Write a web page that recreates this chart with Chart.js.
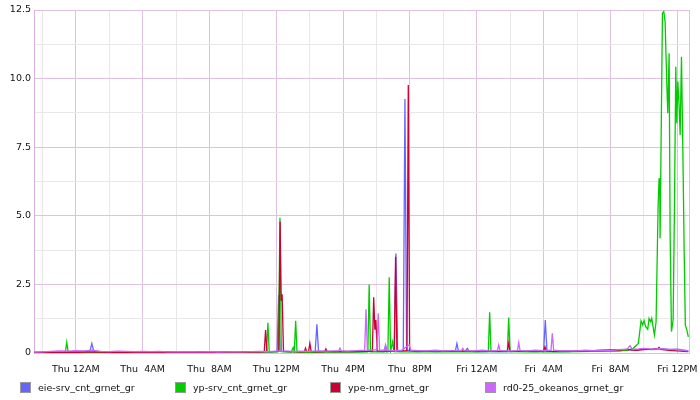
<!DOCTYPE html>
<html>
<head>
<meta charset="utf-8">
<script src="https://cdn.jsdelivr.net/npm/chart.js@4/dist/chart.umd.min.js"></script>
<style>
  html, body { margin: 0; padding: 0; background: #fff; }
  #wrap { position: relative; width: 700px; height: 400px; }
  canvas { position: absolute; left: 0; top: 0; }
  .lg { position: absolute; top: 381px; height: 14px; font: 9.5px "DejaVu Sans", sans-serif; color: #111; line-height: 14px; white-space: nowrap; }
  .lg span.box { position: absolute; left: 0; top: 1px; width: 9px; height: 9px; border: 1px solid #999; }
  .lg span.txt { position: absolute; left: 18px; top: 0; }
</style>
</head>
<body>
<div id="wrap">
  <canvas id="c" width="700" height="400"></canvas>
  <div id="legend"></div>
</div>
<script>
// ---- data (x = hours after Thu 12AM, y = value) ----
const seriesNames = ['eie-srv_cnt_grnet_gr', 'yp-srv_cnt_grnet_gr', 'ype-nm_grnet_gr', 'rd0-25_okeanos_grnet_gr'];
const seriesColors = ['#6666FF', '#00CC00', '#CC0033', '#CC66FF'];

const xTickHours = [0, 4, 8, 12, 16, 20, 24, 28, 32, 36];
const xTickLabels = ['Thu 12AM', 'Thu  4AM', 'Thu  8AM', 'Thu 12PM', 'Thu  4PM', 'Thu  8PM', 'Fri 12AM', 'Fri  4AM', 'Fri  8AM', 'Fri 12PM'];
const yTickValues = [0, 2.5, 5, 7.5, 10, 12.5];
const yTickLabels = ['0', '2.5', '5.0', '7.5', '10.0', '12.5'];

const eieSrv = [[-2.5,0.02],[-2,0.03],[-1.5,0.02],[-1,0.04],[-0.5,0.03],[0,0.05],[0.5,0.06],[0.85,0.08],[0.96,0.35],[1.06,0.1],[1.2,0.04],[1.5,0.03],[2,0.04],[2.5,0.03],[3,0.04],[3.5,0.03],[4,0.05],[4.5,0.04],[5,0.03],[5.5,0.04],[6,0.03],[6.5,0.02],[7,0.03],[7.5,0.04],[8,0.03],[8.5,0.02],[9,0.03],[9.5,0.02],[10,0.03],[10.5,0.03],[11,0.04],[11.5,0.03],[12.05,0.05],[12.14,2.11],[12.23,0.06],[12.6,0.05],[13,0.04],[13.5,0.05],[14,0.04],[14.33,0.05],[14.43,1.05],[14.53,0.05],[15,0.06],[15.5,0.04],[16,0.05],[16.5,0.06],[17,0.05],[17.5,0.07],[18,0.06],[18.5,0.05],[19.06,0.07],[19.16,3.63],[19.26,0.08],[19.6,0.08],[19.7,9.26],[19.8,0.1],[20.2,0.06],[20.5,0.05],[21,0.07],[21.5,0.05],[22,0.06],[22.5,0.07],[22.72,0.08],[22.81,0.35],[22.9,0.08],[23.3,0.06],[23.43,0.17],[23.55,0.06],[24,0.05],[24.5,0.06],[25,0.05],[25.5,0.06],[26,0.05],[26.5,0.07],[27,0.06],[27.5,0.05],[28.0,0.07],[28.1,1.2],[28.2,0.07],[28.6,0.05],[29,0.06],[29.5,0.05],[30,0.07],[30.5,0.06],[31,0.08],[31.5,0.07],[32,0.09],[32.5,0.08],[33,0.12],[33.5,0.1],[34,0.14],[34.5,0.12],[35,0.15],[35.5,0.13],[36,0.14],[36.3,0.11],[36.66,0.08]];

const ypSrv = [[-2.5,0.01],[-1.5,0.02],[-0.8,0.02],[-0.62,0.05],[-0.54,0.39],[-0.46,0.05],[0,0.02],[1,0.03],[2,0.02],[4,0.02],[6,0.02],[8,0.02],[10,0.02],[11,0.02],[11.42,0.03],[11.5,1.1],[11.58,0.03],[12.13,0.05],[12.22,4.93],[12.3,0.05],[12.9,0.03],[13.01,0.2],[13.08,0.05],[13.16,1.17],[13.24,0.03],[14,0.02],[15,0.03],[16,0.03],[17,0.03],[17.48,0.04],[17.56,2.5],[17.64,0.04],[18,0.04],[18.46,0.04],[18.54,0.25],[18.62,0.04],[18.68,0.05],[18.76,2.76],[18.84,0.06],[18.96,0.41],[19.04,0.05],[19.5,0.04],[20,0.04],[21,0.05],[22,0.04],[23,0.05],[24,0.04],[24.69,0.05],[24.77,1.48],[24.85,0.05],[25.83,0.05],[25.91,1.29],[25.99,0.05],[27,0.04],[28,0.05],[29,0.04],[30,0.05],[31,0.06],[32,0.07],[32.5,0.08],[33,0.1],[33.37,0.17],[33.67,0.35],[33.83,1.17],[33.93,1.02],[34.01,1.18],[34.11,0.96],[34.23,0.86],[34.31,1.26],[34.41,1.14],[34.47,1.26],[34.63,0.66],[34.73,1.14],[34.85,5.33],[34.91,6.37],[34.95,6.06],[34.97,4.18],[35.11,12.38],[35.19,12.44],[35.27,12.07],[35.37,9.83],[35.43,8.74],[35.51,10.92],[35.57,4.37],[35.65,0.78],[35.75,1.2],[35.83,5.33],[35.91,10.43],[35.97,8.37],[36.03,9.89],[36.11,8.98],[36.17,7.94],[36.25,10.8],[36.33,7.52],[36.41,3.75],[36.48,1.02],[36.57,0.84],[36.66,0.59]];

const ypeNm = [[-2.5,0.02],[-2,0.02],[-1.5,0.03],[-1,0.02],[-0.5,0.03],[0,0.02],[0.5,0.03],[1,0.04],[1.5,0.03],[2,0.02],[3,0.03],[4,0.02],[5,0.03],[6,0.02],[7,0.03],[8,0.02],[9,0.03],[10,0.03],[10.5,0.04],[11,0.03],[11.28,0.05],[11.36,0.84],[11.44,0.05],[12.15,0.06],[12.23,4.79],[12.29,1.9],[12.35,2.14],[12.43,0.06],[13,0.05],[13.5,0.04],[13.68,0.05],[13.75,0.18],[13.82,0.05],[13.93,0.05],[14.01,0.35],[14.09,0.05],[14.5,0.04],[14.9,0.05],[14.97,0.15],[15.04,0.05],[15.5,0.05],[16,0.06],[16.5,0.05],[17,0.06],[17.5,0.06],[17.75,0.07],[17.83,2.03],[17.9,0.85],[17.96,1.2],[18.04,0.08],[18.5,0.07],[19.06,0.08],[19.14,3.51],[19.22,0.08],[19.82,0.09],[19.9,9.77],[19.98,0.1],[20.3,0.07],[20.5,0.08],[21,0.06],[21.5,0.08],[22,0.07],[22.5,0.06],[23,0.08],[23.5,0.07],[24,0.06],[24.5,0.08],[25,0.07],[25.5,0.06],[25.83,0.07],[25.91,0.36],[25.99,0.07],[26.5,0.06],[27,0.07],[27.5,0.06],[28.0,0.07],[28.08,0.23],[28.16,0.07],[28.5,0.06],[29,0.07],[29.5,0.06],[30,0.08],[30.5,0.07],[31,0.09],[31.5,0.1],[32,0.12],[32.5,0.11],[33,0.13],[33.5,0.1],[34,0.12],[34.5,0.14],[34.85,0.17],[34.91,0.2],[35.0,0.13],[35.5,0.1],[36,0.08],[36.4,0.06],[36.66,0.05]];

const rd0Okeanos = [[-2.5,0.03],[-2,0.04],[-1.5,0.06],[-1,0.08],[-0.5,0.07],[0,0.09],[0.5,0.08],[1,0.1],[1.5,0.06],[2,0.05],[2.5,0.07],[3,0.06],[3.5,0.05],[4,0.06],[4.5,0.05],[5,0.06],[5.5,0.04],[6,0.05],[6.5,0.04],[7,0.05],[7.5,0.04],[8,0.05],[8.5,0.03],[9,0.04],[9.5,0.05],[10,0.04],[10.5,0.05],[11,0.06],[11.5,0.05],[12,0.07],[12.5,0.08],[13,0.06],[13.5,0.07],[14,0.06],[14.5,0.08],[15,0.07],[15.5,0.08],[15.74,0.08],[15.81,0.18],[15.88,0.08],[16.3,0.07],[16.8,0.09],[17.29,0.1],[17.37,1.59],[17.45,0.1],[18.02,0.12],[18.1,1.45],[18.18,0.1],[18.46,0.1],[18.54,0.3],[18.62,0.1],[19,0.09],[19.5,0.1],[19.95,0.3],[20.05,0.1],[20.5,0.09],[21,0.08],[21.5,0.1],[22,0.08],[22.5,0.09],[23.08,0.09],[23.16,0.17],[23.24,0.09],[23.8,0.08],[24.3,0.1],[24.8,0.08],[25.23,0.09],[25.31,0.29],[25.39,0.09],[26,0.08],[26.43,0.09],[26.51,0.38],[26.59,0.09],[27,0.08],[27.5,0.1],[28,0.09],[28.44,0.1],[28.52,0.72],[28.6,0.1],[29,0.08],[29.5,0.09],[30,0.08],[30.5,0.1],[31,0.09],[31.5,0.11],[32,0.1],[32.5,0.12],[33.0,0.14],[33.17,0.27],[33.3,0.13],[33.7,0.15],[34,0.17],[34.5,0.14],[35,0.16],[35.5,0.13],[36,0.12],[36.3,0.1],[36.66,0.08]];

const allSeries = [eieSrv, ypSrv, ypeNm, rd0Okeanos];

// ---- chart ----
const MAJOR = '#DEC0E0';
const MINOR = '#E8E8E8';
const X_MIN = -2.5, X_MAX = 36.7;

Chart.defaults.font.family = '"DejaVu Sans", sans-serif';
Chart.defaults.font.size = 9.5;
Chart.defaults.color = '#111';

const datasets = allSeries.map((pts, i) => ({
  label: seriesNames[i],
  data: pts.map(p => ({ x: p[0], y: p[1] })),
  borderColor: seriesColors[i],
  backgroundColor: seriesColors[i],
  borderWidth: 1.3,
  pointRadius: 0,
  tension: 0,
  fill: false,
  order: 4 - i
}));

function isMult(v, s) { return Math.abs(v / s - Math.round(v / s)) < 1e-6; }

new Chart(document.getElementById('c'), {
  type: 'line',
  data: { datasets },
  options: {
    responsive: false,
    animation: false,
    events: [],
    layout: { padding: { left: 0, right: 11, top: 10, bottom: 22 } },
    plugins: { legend: { display: false }, tooltip: { enabled: false } },
    scales: {
      x: {
        type: 'linear',
        min: X_MIN,
        max: X_MAX,
        afterBuildTicks: (scale) => {
          const t = [];
          for (let h = -2; h <= 36; h += 2) t.push({ value: h });
          t.push({ value: X_MAX });
          scale.ticks = t;
        },
        afterFit: (scale) => { scale.height = 25; },
        grid: {
          drawTicks: false,
          color: (ctx) => {
            const v = ctx.tick ? ctx.tick.value : 0;
            if (v === X_MAX) return MAJOR;
            return isMult(v, 4) ? MAJOR : MINOR;
          }
        },
        border: { color: MAJOR },
        ticks: {
          padding: 11,
          maxRotation: 0,
          autoSkip: false,
          callback: (v) => {
            const idx = xTickHours.indexOf(v);
            return idx >= 0 ? xTickLabels[idx] : '';
          }
        }
      },
      y: {
        min: 0,
        max: 12.5,
        afterBuildTicks: (scale) => {
          const t = [];
          for (let k = 0; k <= 10; k++) t.push({ value: k * 1.25 });
          scale.ticks = t;
        },
        afterFit: (scale) => { scale.width = 34; },
        grid: {
          drawTicks: false,
          color: (ctx) => {
            const v = ctx.tick ? ctx.tick.value : 0;
            return isMult(v, 2.5) ? MAJOR : MINOR;
          }
        },
        border: { color: '#D8B0DC' },
        ticks: {
          padding: 3,
          autoSkip: false,
          callback: (v) => {
            const idx = yTickValues.findIndex(y => Math.abs(y - v) < 1e-6);
            return idx >= 0 ? yTickLabels[idx] : '';
          }
        }
      }
    }
  }
});

// ---- legend ----
const legendXs = [20, 175, 330, 485];
const lg = document.getElementById('legend');
seriesNames.forEach((name, i) => {
  const d = document.createElement('div');
  d.className = 'lg';
  d.style.left = legendXs[i] + 'px';
  const b = document.createElement('span');
  b.className = 'box';
  b.style.background = seriesColors[i];
  const t = document.createElement('span');
  t.className = 'txt';
  t.textContent = name;
  d.appendChild(b);
  d.appendChild(t);
  lg.appendChild(d);
});
</script>
</body>
</html>
